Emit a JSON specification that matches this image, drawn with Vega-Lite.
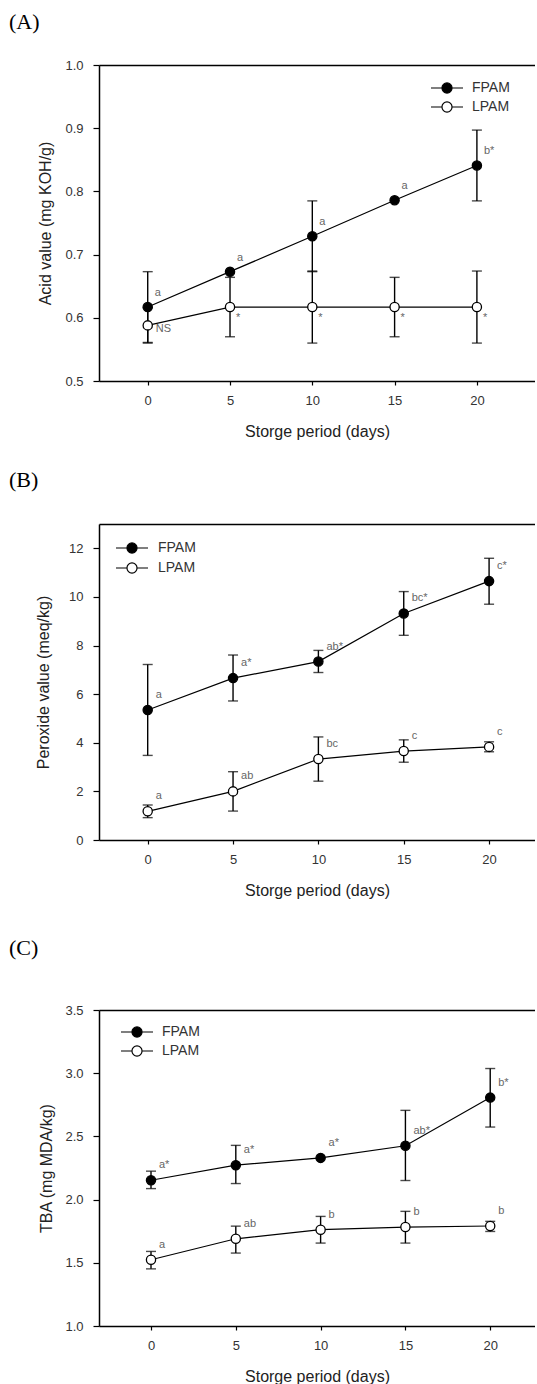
{
  "$schema": "https://vega.github.io/schema/vega-lite/v6.json",
  "padding": {"left": 9, "top": 11, "right": 0, "bottom": 0},
  "spacing": 30,
  "background": "white",
  "config": {
    "view": {"stroke": null},
    "font": "Liberation Sans",
    "axis": {"domainColor": "black", "domainWidth": 1.5, "tickColor": "black", "tickWidth": 1.2, "labelColor": "#333", "labelFontSize": 13, "titleFontSize": 16, "titleFontWeight": "normal", "titleColor": "#222", "grid": false},
    "axisX": {"tickSize": 4, "labelPadding": 9, "titlePadding": 16},
    "axisY": {"tickSize": 6, "labelPadding": 10, "titlePadding": 11},
    "title": {"font": "Liberation Serif", "fontSize": 22, "fontWeight": "normal", "color": "black", "anchor": "start", "frame": "group"},
    "text": {"font": "Liberation Sans", "fontSize": 11, "color": "#666", "align": "left", "baseline": "middle"},
    "legend": {"title": null, "orient": "none", "symbolType": "M-1.78,0H-0.56M0.56,0H1.78M-0.56,0A0.56,0.56 0 1,0 0.56,0A0.56,0.56 0 1,0 -0.56,0Z", "symbolSize": 324, "symbolStrokeColor": "black", "symbolStrokeWidth": 1.2, "labelOffset": 15, "labelFontSize": 14, "labelColor": "#333", "rowPadding": 1, "padding": 0}
  },
  "data": {"values": [
    {"panel": "A", "group": "FPAM", "day": 0, "mean": 0.617, "lo": 0.561, "hi": 0.673, "label": "a"},
    {"panel": "A", "group": "FPAM", "day": 5, "mean": 0.673, "lo": null, "hi": null, "label": "a"},
    {"panel": "A", "group": "FPAM", "day": 10, "mean": 0.729, "lo": 0.673, "hi": 0.785, "label": "a"},
    {"panel": "A", "group": "FPAM", "day": 15, "mean": 0.786, "lo": null, "hi": null, "label": "a"},
    {"panel": "A", "group": "FPAM", "day": 20, "mean": 0.841, "lo": 0.785, "hi": 0.897, "label": "b*"},
    {"panel": "A", "group": "LPAM", "day": 0, "mean": 0.588, "lo": 0.560, "hi": 0.616, "label": "NS"},
    {"panel": "A", "group": "LPAM", "day": 5, "mean": 0.617, "lo": 0.570, "hi": 0.664, "label": "*"},
    {"panel": "A", "group": "LPAM", "day": 10, "mean": 0.617, "lo": 0.560, "hi": 0.674, "label": "*"},
    {"panel": "A", "group": "LPAM", "day": 15, "mean": 0.617, "lo": 0.570, "hi": 0.664, "label": "*"},
    {"panel": "A", "group": "LPAM", "day": 20, "mean": 0.617, "lo": 0.560, "hi": 0.674, "label": "*"},
    {"panel": "B", "group": "FPAM", "day": 0, "mean": 5.35, "lo": 3.48, "hi": 7.22, "label": "a"},
    {"panel": "B", "group": "FPAM", "day": 5, "mean": 6.66, "lo": 5.72, "hi": 7.61, "label": "a*"},
    {"panel": "B", "group": "FPAM", "day": 10, "mean": 7.34, "lo": 6.89, "hi": 7.80, "label": "ab*"},
    {"panel": "B", "group": "FPAM", "day": 15, "mean": 9.32, "lo": 8.42, "hi": 10.22, "label": "bc*"},
    {"panel": "B", "group": "FPAM", "day": 20, "mean": 10.65, "lo": 9.70, "hi": 11.59, "label": "c*"},
    {"panel": "B", "group": "LPAM", "day": 0, "mean": 1.18, "lo": 0.92, "hi": 1.44, "label": "a"},
    {"panel": "B", "group": "LPAM", "day": 5, "mean": 2.0, "lo": 1.19, "hi": 2.81, "label": "ab"},
    {"panel": "B", "group": "LPAM", "day": 10, "mean": 3.33, "lo": 2.42, "hi": 4.24, "label": "bc"},
    {"panel": "B", "group": "LPAM", "day": 15, "mean": 3.66, "lo": 3.20, "hi": 4.12, "label": "c"},
    {"panel": "B", "group": "LPAM", "day": 20, "mean": 3.83, "lo": 3.63, "hi": 4.04, "label": "c"},
    {"panel": "C", "group": "FPAM", "day": 0, "mean": 2.153, "lo": 2.087, "hi": 2.225, "label": "a*"},
    {"panel": "C", "group": "FPAM", "day": 5, "mean": 2.272, "lo": 2.127, "hi": 2.429, "label": "a*"},
    {"panel": "C", "group": "FPAM", "day": 10, "mean": 2.33, "lo": null, "hi": null, "label": "a*"},
    {"panel": "C", "group": "FPAM", "day": 15, "mean": 2.426, "lo": 2.151, "hi": 2.706, "label": "ab*"},
    {"panel": "C", "group": "FPAM", "day": 20, "mean": 2.807, "lo": 2.574, "hi": 3.037, "label": "b*"},
    {"panel": "C", "group": "LPAM", "day": 0, "mean": 1.524, "lo": 1.452, "hi": 1.59, "label": "a"},
    {"panel": "C", "group": "LPAM", "day": 5, "mean": 1.69, "lo": 1.577, "hi": 1.79, "label": "ab"},
    {"panel": "C", "group": "LPAM", "day": 10, "mean": 1.762, "lo": 1.656, "hi": 1.867, "label": "b"},
    {"panel": "C", "group": "LPAM", "day": 15, "mean": 1.783, "lo": 1.656, "hi": 1.907, "label": "b"},
    {"panel": "C", "group": "LPAM", "day": 20, "mean": 1.791, "lo": 1.748, "hi": 1.828, "label": "b"}
  ]},
  "resolve": {"scale": {"fill": "independent"}, "legend": {"fill": "independent"}},
  "vconcat": [
    {
      "title": {"text": "(A)", "offset": 25, "dx": -90},
      "width": 436, "height": 316,
      "transform": [{"filter": "datum.panel == 'A'"}],
      "resolve": {"axis": {"x": "independent"}},
      "layer": [
        {
          "encoding": {"x": {"field": "day", "type": "quantitative", "scale": {"domain": [-2.96, 23.53], "nice": false, "zero": false}, "axis": {"values": [0, 5, 10, 15, 20], "title": "Storge period (days)"}}},
          "layer": [
            {"mark": {"type": "rule", "color": "black", "strokeWidth": 1.4}, "encoding": {"y": {"field": "lo", "type": "quantitative", "scale": {"domain": [0.5, 1.0], "nice": false, "zero": false}, "axis": {"values": [0.5, 0.6, 0.7, 0.8, 0.9, 1.0], "format": ".1f", "titlePadding": 11.5}, "title": "Acid value (mg KOH/g)"}, "y2": {"field": "hi"}}},
            {"mark": {"type": "tick", "orient": "horizontal", "color": "black", "size": 10, "thickness": 1.4}, "encoding": {"y": {"field": "lo", "type": "quantitative", "title": "Acid value (mg KOH/g)"}}},
            {"mark": {"type": "tick", "orient": "horizontal", "color": "black", "size": 10, "thickness": 1.4}, "encoding": {"y": {"field": "hi", "type": "quantitative", "title": "Acid value (mg KOH/g)"}}},
            {"mark": {"type": "line", "color": "black", "strokeWidth": 1.2}, "encoding": {"y": {"field": "mean", "type": "quantitative", "title": "Acid value (mg KOH/g)"}, "detail": {"field": "group"}}},
            {"mark": {"type": "point", "filled": true, "stroke": "black", "strokeWidth": 1.3, "size": 85, "opacity": 1}, "encoding": {"y": {"field": "mean", "type": "quantitative", "title": "Acid value (mg KOH/g)"}, "fill": {"field": "group", "type": "nominal", "scale": {"domain": ["FPAM", "LPAM"], "range": ["black", "white"]}, "legend": {"legendX": 338, "legendY": 13}}}},
            {"transform": [{"filter": "datum.group == 'FPAM'"}], "mark": {"type": "text", "dx": 7, "dy": -14}, "encoding": {"y": {"field": "mean", "type": "quantitative", "title": "Acid value (mg KOH/g)"}, "text": {"field": "label"}}},
            {"transform": [{"filter": "datum.group == 'LPAM' && datum.day == 0"}], "mark": {"type": "text", "dx": 8, "dy": 4}, "encoding": {"y": {"field": "mean", "type": "quantitative", "title": "Acid value (mg KOH/g)"}, "text": {"field": "label"}}},
            {"transform": [{"filter": "datum.group == 'LPAM' && datum.day > 0"}], "mark": {"type": "text", "dx": 6, "dy": 11}, "encoding": {"y": {"field": "mean", "type": "quantitative", "title": "Acid value (mg KOH/g)"}, "text": {"field": "label"}}}
          ]
        },
        {"mark": {"type": "rule", "opacity": 0}, "encoding": {"x": {"field": "day", "type": "quantitative", "axis": {"orient": "top", "labels": false, "ticks": false, "title": null}}}}
      ]
    },
    {
      "title": {"text": "(B)", "offset": 32, "dx": -90},
      "width": 436, "height": 316,
      "transform": [{"filter": "datum.panel == 'B'"}],
      "resolve": {"axis": {"x": "independent"}},
      "layer": [
        {
          "encoding": {"x": {"field": "day", "type": "quantitative", "scale": {"domain": [-2.853, 22.69], "nice": false, "zero": false}, "axis": {"values": [0, 5, 10, 15, 20], "title": "Storge period (days)"}}},
          "layer": [
            {"mark": {"type": "rule", "color": "black", "strokeWidth": 1.4}, "encoding": {"y": {"field": "lo", "type": "quantitative", "scale": {"domain": [0, 13], "nice": false, "zero": false}, "axis": {"values": [0, 2, 4, 6, 8, 10, 12], "titlePadding": 17.5}, "title": "Peroxide value (meq/kg)"}, "y2": {"field": "hi"}}},
            {"mark": {"type": "tick", "orient": "horizontal", "color": "black", "size": 10, "thickness": 1.4}, "encoding": {"y": {"field": "lo", "type": "quantitative", "title": "Peroxide value (meq/kg)"}}},
            {"mark": {"type": "tick", "orient": "horizontal", "color": "black", "size": 10, "thickness": 1.4}, "encoding": {"y": {"field": "hi", "type": "quantitative", "title": "Peroxide value (meq/kg)"}}},
            {"mark": {"type": "line", "color": "black", "strokeWidth": 1.2}, "encoding": {"y": {"field": "mean", "type": "quantitative", "title": "Peroxide value (meq/kg)"}, "detail": {"field": "group"}}},
            {"mark": {"type": "point", "filled": true, "stroke": "black", "strokeWidth": 1.3, "size": 85, "opacity": 1}, "encoding": {"y": {"field": "mean", "type": "quantitative", "title": "Peroxide value (meq/kg)"}, "fill": {"field": "group", "type": "nominal", "scale": {"domain": ["FPAM", "LPAM"], "range": ["black", "white"]}, "legend": {"legendX": 23, "legendY": 14, "labelOffset": 16, "rowPadding": 2}}}},
            {"mark": {"type": "text", "dx": 8, "dy": -15}, "encoding": {"y": {"field": "mean", "type": "quantitative", "title": "Peroxide value (meq/kg)"}, "text": {"field": "label"}}}
          ]
        },
        {"mark": {"type": "rule", "opacity": 0}, "encoding": {"x": {"field": "day", "type": "quantitative", "axis": {"orient": "top", "labels": false, "ticks": false, "title": null}}}}
      ]
    },
    {
      "title": {"text": [" ", "(C)"], "lineHeight": 8, "offset": 44.5, "dx": -90},
      "width": 436, "height": 316,
      "transform": [{"filter": "datum.panel == 'C'"}],
      "resolve": {"axis": {"x": "independent"}},
      "layer": [
        {
          "encoding": {"x": {"field": "day", "type": "quantitative", "scale": {"domain": [-3.066, 22.64], "nice": false, "zero": false}, "axis": {"values": [0, 5, 10, 15, 20], "title": "Storge period (days)"}}},
          "layer": [
            {"mark": {"type": "rule", "color": "black", "strokeWidth": 1.4}, "encoding": {"y": {"field": "lo", "type": "quantitative", "scale": {"domain": [1.0, 3.5], "nice": false, "zero": false}, "axis": {"values": [1.0, 1.5, 2.0, 2.5, 3.0, 3.5], "format": ".1f", "titlePadding": 10.5}, "title": "TBA (mg MDA/kg)"}, "y2": {"field": "hi"}}},
            {"mark": {"type": "tick", "orient": "horizontal", "color": "black", "size": 10, "thickness": 1.4}, "encoding": {"y": {"field": "lo", "type": "quantitative", "title": "TBA (mg MDA/kg)"}}},
            {"mark": {"type": "tick", "orient": "horizontal", "color": "black", "size": 10, "thickness": 1.4}, "encoding": {"y": {"field": "hi", "type": "quantitative", "title": "TBA (mg MDA/kg)"}}},
            {"mark": {"type": "line", "color": "black", "strokeWidth": 1.2}, "encoding": {"y": {"field": "mean", "type": "quantitative", "title": "TBA (mg MDA/kg)"}, "detail": {"field": "group"}}},
            {"mark": {"type": "point", "filled": true, "stroke": "black", "strokeWidth": 1.3, "size": 85, "opacity": 1}, "encoding": {"y": {"field": "mean", "type": "quantitative", "title": "TBA (mg MDA/kg)"}, "fill": {"field": "group", "type": "nominal", "scale": {"domain": ["FPAM", "LPAM"], "range": ["black", "white"]}, "legend": {"legendX": 28, "legendY": 12}}}},
            {"mark": {"type": "text", "dx": 8, "dy": -15}, "encoding": {"y": {"field": "mean", "type": "quantitative", "title": "TBA (mg MDA/kg)"}, "text": {"field": "label"}}}
          ]
        },
        {"mark": {"type": "rule", "opacity": 0}, "encoding": {"x": {"field": "day", "type": "quantitative", "axis": {"orient": "top", "labels": false, "ticks": false, "title": null}}}}
      ]
    }
  ]
}
